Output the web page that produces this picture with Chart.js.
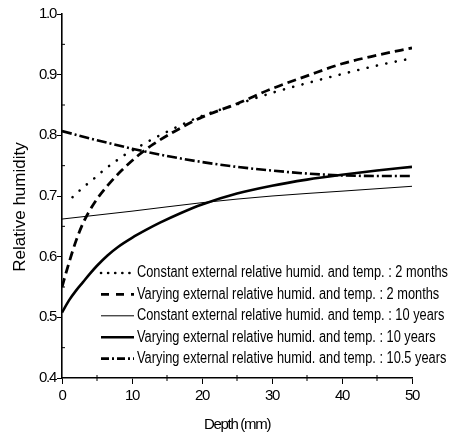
<!DOCTYPE html>
<html>
<head>
<meta charset="utf-8">
<script src="https://cdn.jsdelivr.net/npm/chart.js@4"></script>
<style>
html,body{margin:0;padding:0;background:#fff;}
#wrap{width:455px;height:438px;position:relative;}
</style>
</head>
<body>
<div id="wrap"><canvas id="c"></canvas></div>
<script>
// ---- data ----
const labels = [
  "Constant external relative humid. and temp. : 2 months",
  "Varying external relative humid. and temp. : 2 months",
  "Constant external relative humid. and temp. : 10 years",
  "Varying external relative humid. and temp. : 10 years",
  "Varying external relative humid. and temp. : 10.5 years"
];
const depthConst2m = [1.5, 3, 4.5, 6, 7.5, 9, 10.5, 12, 14, 17, 20, 25, 30, 35, 40, 45, 50];
const rhConst2m    = [0.698, 0.714, 0.728, 0.743, 0.756, 0.768, 0.778, 0.788, 0.800, 0.817, 0.832, 0.851, 0.870, 0.886, 0.901, 0.915, 0.927];
const depthVar2m = [0, 1, 2, 3, 4, 5, 6.5, 8.5, 11, 13, 16, 20, 25, 30, 35, 40, 45, 50];
const rhVar2m    = [0.550, 0.590, 0.626, 0.655, 0.677, 0.695, 0.717, 0.742, 0.768, 0.785, 0.806, 0.830, 0.852, 0.877, 0.898, 0.918, 0.932, 0.944];
const depthConst10y = [0, 10, 20, 30, 40, 50];
const rhConst10y    = [0.662, 0.675, 0.689, 0.700, 0.708, 0.716];
const depthVar10y = [0, 1, 2, 3, 4, 5, 6.5, 8, 10, 12, 14, 17, 20, 25, 30, 35, 40, 45, 50];
const rhVar10y    = [0.508, 0.528, 0.544, 0.558, 0.572, 0.585, 0.602, 0.616, 0.631, 0.644, 0.656, 0.672, 0.686, 0.704, 0.717, 0.727, 0.735, 0.742, 0.748];
const depthVar105y = [0, 5, 10, 15, 20, 25, 30, 35, 40, 45, 50];
const rhVar105y    = [0.807, 0.792, 0.778, 0.766, 0.756, 0.748, 0.742, 0.737, 0.734, 0.733, 0.733];
const xTicks = [0, 10, 20, 30, 40, 50];
const yTicks = [0.4, 0.5, 0.6, 0.7, 0.8, 0.9, 1.0];

const toXY = (xs, ys) => xs.map((x, i) => ({x: x, y: ys[i]}));
const FONT = '"Liberation Sans", Arial, sans-serif';

const datasets = [
  {label: labels[0], data: toXY(depthConst2m, rhConst2m), borderWidth: 2.6, borderDash: [0.1, 9.5], borderCapStyle: 'round', legendDash: [0.1, 7]},
  {label: labels[1], data: toXY(depthVar2m, rhVar2m), borderWidth: 2.8, borderDash: [9, 5], borderCapStyle: 'butt', legendDash: [8, 7]},
  {label: labels[2], data: toXY(depthConst10y, rhConst10y), borderWidth: 1, borderDash: [], borderCapStyle: 'butt', legendDash: []},
  {label: labels[3], data: toXY(depthVar10y, rhVar10y), borderWidth: 2.6, borderDash: [], borderCapStyle: 'butt', legendDash: []},
  {label: labels[4], data: toXY(depthVar105y, rhVar105y), borderWidth: 2.6, borderDash: [10, 3, 2, 3], borderCapStyle: 'butt', legendDash: [8, 3, 2, 3]}
].map(d => Object.assign(d, {borderColor: '#000', backgroundColor: '#000', pointRadius: 0, fill: false, cubicInterpolationMode: 'monotone'}));

const extras = {
  id: 'extras',
  beforeDraw(chart) { chart.ctx.letterSpacing = '-1.3px'; },
  afterDraw(chart) {
    const ctx = chart.ctx, ca = chart.chartArea;
    const xs = chart.scales.x, ys = chart.scales.y;
    ctx.save();
    ctx.letterSpacing = '0px';
    ctx.strokeStyle = '#000';
    ctx.lineWidth = 1;
    // minor ticks
    for (let v = 5; v < 50; v += 10) {
      const px = xs.getPixelForValue(v);
      ctx.beginPath(); ctx.moveTo(px, ca.bottom - 3); ctx.lineTo(px, ca.bottom + 3); ctx.stroke();
    }
    for (let v = 0.45; v < 1.0; v += 0.1) {
      const py = ys.getPixelForValue(v);
      ctx.beginPath(); ctx.moveTo(ca.left, py); ctx.lineTo(ca.left + 3, py); ctx.stroke();
    }
    // y title
    ctx.fillStyle = '#000';
    ctx.font = '17px ' + FONT;
    ctx.translate(20, (ca.top + ca.bottom) / 2 + 11);
    ctx.rotate(-Math.PI / 2);
    ctx.textAlign = 'center'; ctx.textBaseline = 'middle';
    ctx.fillText('Relative humidity', 0, 0);
    ctx.restore();
    // legend
    ctx.save();
    ctx.letterSpacing = '0px';
    ctx.font = '16px ' + FONT;
    ctx.textBaseline = 'middle'; ctx.textAlign = 'left'; ctx.fillStyle = '#000';
    const sx = 311 / ctx.measureText(labels[0]).width;
    const lx0 = ca.left + 39, lx1 = ca.left + 72, tx = ca.left + 75;
    chart.data.datasets.forEach((d, i) => {
      const y = ca.top + 259 + i * 21.4;
      ctx.beginPath();
      ctx.strokeStyle = '#000';
      ctx.lineWidth = d.borderWidth;
      ctx.lineCap = d.borderCapStyle;
      ctx.setLineDash(d.legendDash);
      ctx.moveTo(lx0, y); ctx.lineTo(lx1, y); ctx.stroke();
      ctx.setLineDash([]);
      ctx.save();
      ctx.translate(tx, y);
      ctx.scale(sx, 1);
      ctx.fillText(d.label, 0, 0);
      ctx.restore();
    });
    ctx.restore();
  }
};

new Chart(document.getElementById('c'), {
  type: 'line',
  data: {datasets: datasets},
  options: {
    responsive: true, maintainAspectRatio: false, animation: false,
    layout: {padding: {top: 14, right: 43, left: 0, bottom: 0}},
    plugins: {legend: {display: false}, tooltip: {enabled: false}},
    scales: {
      x: {
        type: 'linear', min: 0, max: 50,
        afterBuildTicks: s => { s.ticks = xTicks.map(v => ({value: v})); },
        afterFit: s => { s.height = 60; },
        grid: {drawOnChartArea: false, tickLength: 6, color: '#000', tickWidth: 1},
        border: {color: '#000', width: 1.6},
        ticks: {color: '#000', font: {family: FONT, size: 15}, padding: 3},
        title: {display: true, text: 'Depth (mm)', color: '#000', font: {family: FONT, size: 15}, padding: {top: 8}}
      },
      y: {
        type: 'linear', min: 0.4, max: 1.0,
        afterBuildTicks: s => { s.ticks = yTicks.map(v => ({value: v})); },
        afterFit: s => { s.width = 62; },
        grid: {drawOnChartArea: false, tickLength: 5, color: '#000', tickWidth: 1},
        border: {color: '#000', width: 1.6},
        ticks: {color: '#000', font: {family: FONT, size: 15}, padding: 1, callback: v => v.toFixed(1)}
      }
    }
  },
  plugins: [extras]
});
</script>
</body>
</html>
